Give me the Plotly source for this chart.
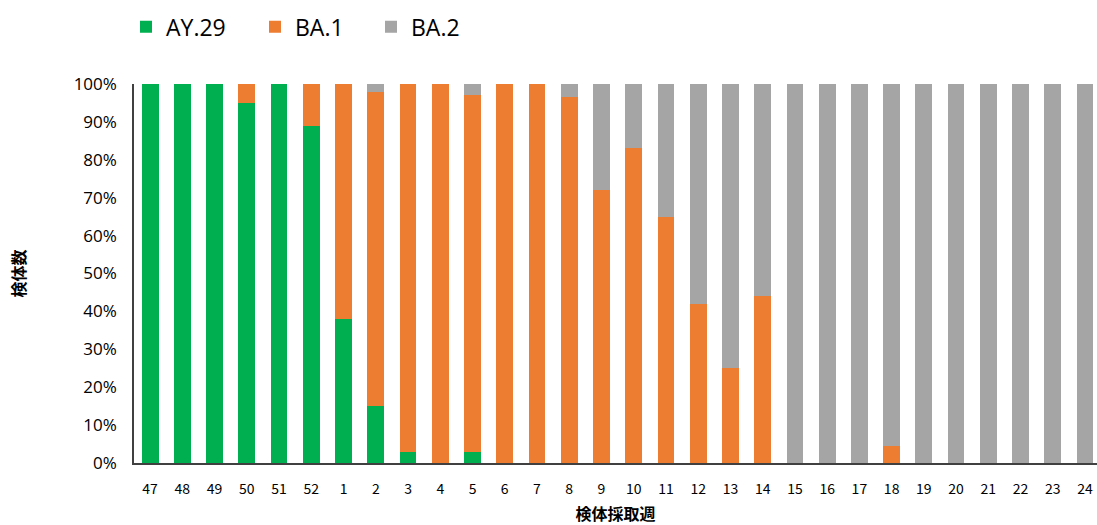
import plotly.graph_objects as go

# Specimen collection week (ISO week; 47-52 of one year, then 1-24 of the next)
weeks = ["47", "48", "49", "50", "51", "52", "1", "2", "3", "4", "5", "6", "7", "8",
         "9", "10", "11", "12", "13", "14", "15", "16", "17", "18", "19", "20",
         "21", "22", "23", "24"]

# Share of specimens per lineage (%)
ay29 = [100, 100, 100, 95, 100, 89, 38, 15, 3, 0, 3, 0, 0, 0,
        0, 0, 0, 0, 0, 0, 0, 0, 0, 0, 0, 0, 0, 0, 0, 0]
ba1 = [0, 0, 0, 5, 0, 11, 62, 83, 97, 100, 94, 100, 100, 96.5,
       72, 83, 65, 42, 25, 44, 0, 0, 0, 4.4, 0, 0, 0, 0, 0, 0]
ba2 = [0, 0, 0, 0, 0, 0, 0, 2, 0, 0, 3, 0, 0, 3.5,
       28, 17, 35, 58, 75, 56, 100, 100, 100, 95.6, 100, 100, 100, 100, 100, 100]

series = [("AY.29", ay29, "#00B050"), ("BA.1", ba1, "#ED7D31"), ("BA.2", ba2, "#A5A5A5")]
legend_ids = ["legend", "legend2", "legend3"]
legend_left_px = [126, 255, 371]

W, H = 1097, 525
font_main = "Open Sans, Noto Sans CJK JP, sans-serif"
font_jp = "Noto Sans CJK JP, sans-serif"

fig = go.Figure()
for (name, vals, color), lid in zip(series, legend_ids):
    fig.add_trace(go.Bar(x=weeks, y=vals, name=name, legend=lid, showlegend=True,
                         marker=dict(color=color, line=dict(width=0))))

legend_common = dict(
    orientation="h",
    xref="container", yref="container",
    y=0.99, xanchor="left", yanchor="top",
    font=dict(size=23, family=font_main, color="#000000"),
    bgcolor="rgba(0,0,0,0)",
)
legends = {lid: dict(legend_common, x=px / W) for lid, px in zip(legend_ids, legend_left_px)}

fig.update_layout(
    showlegend=True,
    barmode="stack",
    bargap=0.48,
    width=W,
    height=H,
    margin=dict(l=134, r=0, t=84, b=62),
    plot_bgcolor="white",
    paper_bgcolor="white",
    font=dict(family=font_main, color="#000000"),
    **legends,
    xaxis=dict(
        type="category",
        range=[-0.5, 29.37],
        showline=True, linecolor="#404040", linewidth=1.5,
        ticks="", showgrid=False,
        ticklabelstandoff=12,
        tickfont=dict(size=14, family=font_jp),
        title=dict(text="<b>検体採取週</b>", font=dict(size=16, family=font_jp), standoff=14),
    ),
    yaxis=dict(
        range=[0, 100],
        dtick=10,
        ticksuffix="%",
        showline=True, linecolor="#404040", linewidth=1.5,
        ticks="", showgrid=False, zeroline=False,
        ticklabelstandoff=12,
        tickfont=dict(size=17, family=font_main),
        title=dict(text="<b>検体数</b>", font=dict(size=16, family=font_jp), standoff=44),
    ),
)

fig.write_html("out.html")
